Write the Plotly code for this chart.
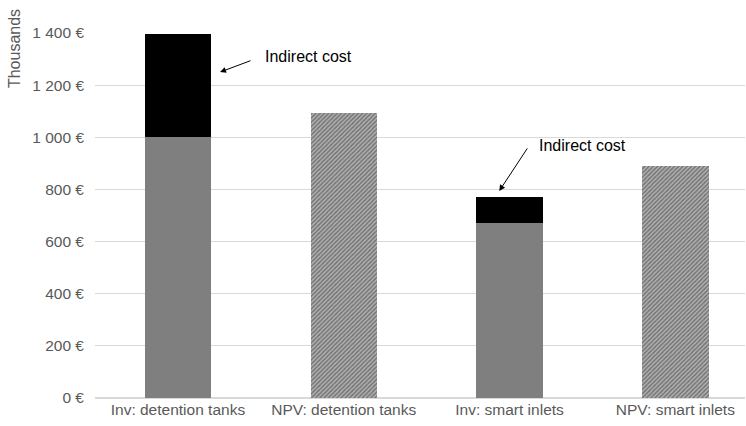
import plotly.graph_objects as go

categories = ["Inv: detention tanks", "NPV: detention tanks", "Inv: smart inlets", "NPV: smart inlets"]
direct_cost = [1000, None, 670, None]
indirect_cost = [395, None, 100, None]
npv_values = [None, 1095, None, 890]
tick_vals = [0, 200, 400, 600, 800, 1000, 1200, 1400]
tick_text = ["0 €", "200 €", "400 €", "600 €", "800 €", "1 000 €", "1 200 €", "1 400 €"]

font_family = "Liberation Sans, Arial, sans-serif"
label_size = 15.5

fig = go.Figure()
fig.add_trace(go.Bar(x=categories, y=direct_cost, marker=dict(color="#7f7f7f", line=dict(width=0)),
                     width=0.4, showlegend=False, hoverinfo="y"))
fig.add_trace(go.Bar(x=categories, y=indirect_cost, marker=dict(color="#000000", line=dict(width=0)),
                     width=0.4, showlegend=False, hoverinfo="y"))
fig.add_trace(go.Bar(x=categories, y=npv_values,
                     marker=dict(color="#959595", line=dict(width=0),
                                 pattern=dict(shape="/", size=3, solidity=0.45,
                                              fgcolor="#2e2e2e", bgcolor="#b0b0b0")),
                     width=0.4, showlegend=False, hoverinfo="y"))

# Arrows pointing at the indirect-cost segments
fig.add_annotation(x=0.254, y=1250, ax=0.447, ay=1296, axref="x", ayref="y", xref="x", yref="y",
                   text="", showarrow=True, arrowhead=2, arrowsize=1.2, arrowwidth=1, arrowcolor="#000")
fig.add_annotation(x=0.514, y=1308, xref="x", yref="y", text="Indirect cost", showarrow=False,
                   xanchor="left", yanchor="middle", font=dict(size=16, color="#000", family=font_family))
fig.add_annotation(x=1.938, y=794, ax=2.113, ay=963, axref="x", ayref="y", xref="x", yref="y",
                   text="", showarrow=True, arrowhead=2, arrowsize=1.2, arrowwidth=1, arrowcolor="#000")
fig.add_annotation(x=2.168, y=967, xref="x", yref="y", text="Indirect cost", showarrow=False,
                   xanchor="left", yanchor="middle", font=dict(size=16, color="#000", family=font_family))

# Axis unit label
fig.add_annotation(x=-0.1246, y=0.956, xref="paper", yref="paper", text="Thousands", textangle=-90,
                   showarrow=False, xanchor="center", yanchor="middle",
                   font=dict(size=16, color="#595959", family=font_family))

fig.update_layout(
    width=746, height=426,
    barmode="stack",
    plot_bgcolor="white", paper_bgcolor="white",
    margin=dict(l=95, r=1, t=33, b=28, autoexpand=False),
    font=dict(family=font_family, size=label_size, color="#595959"),
    xaxis=dict(range=[-0.5, 3.42], showgrid=False, showline=False, ticks="",
               tickfont=dict(size=label_size, color="#595959")),
    yaxis=dict(range=[0, 1400], tickvals=tick_vals, ticktext=tick_text, showgrid=True,
               gridcolor="#d9d9d9", gridwidth=1, zeroline=True, zerolinecolor="#d9d9d9",
               showline=False, ticks="", ticklabelstandoff=10,
               tickfont=dict(size=label_size, color="#595959")),
)
fig.write_html("out.html")
